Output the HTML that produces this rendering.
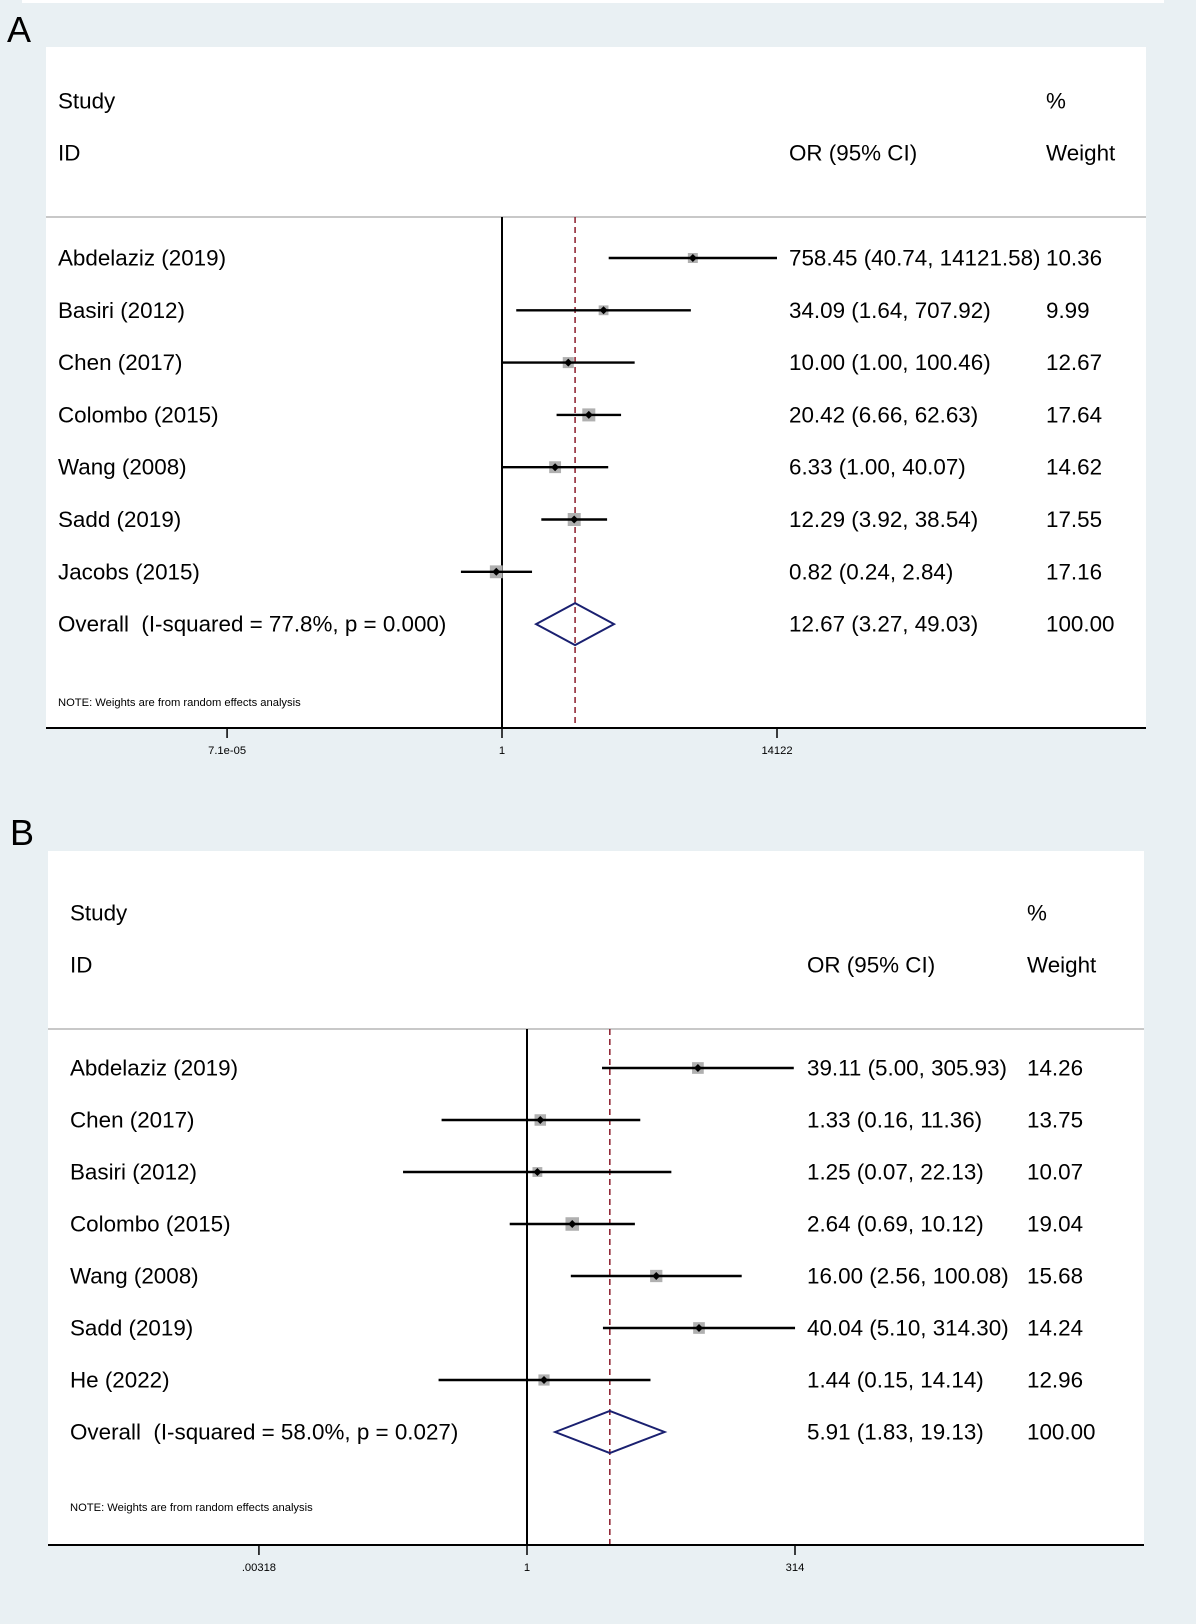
<!DOCTYPE html>
<html><head><meta charset="utf-8">
<style>
html,body{margin:0;padding:0;background:#e9f0f3;}
svg{display:block;font-family:"Liberation Sans",Arial,sans-serif;}
svg text{white-space:pre;}
</style></head>
<body>
<svg id="fig" width="1196" height="1624" viewBox="0 0 1196 1624" xmlns="http://www.w3.org/2000/svg">
<rect x="0" y="0" width="1196" height="1624" fill="#e9f0f3"/>
<rect x="22" y="0" width="1142" height="3" fill="#ffffff"/>
<text x="7" y="42" font-size="36" fill="#000">A</text>
<text x="10" y="845" font-size="36" fill="#000">B</text>
<g id="panelA"></g>
<g id="panelB"></g>
</svg>
<script>
// Panel A data
const studiesA = ["Abdelaziz (2019)","Basiri (2012)","Chen (2017)","Colombo (2015)","Wang (2008)","Sadd (2019)","Jacobs (2015)"];
const orA = [758.45, 34.09, 10.00, 20.42, 6.33, 12.29, 0.82];
const lowA = [40.74, 1.64, 1.00, 6.66, 1.00, 3.92, 0.24];
const highA = [14121.58, 707.92, 100.46, 62.63, 40.07, 38.54, 2.84];
const weightA = [10.36, 9.99, 12.67, 17.64, 14.62, 17.55, 17.16];
const overallA = [12.67, 3.27, 49.03];
const overallLabelA = "Overall  (I-squared = 77.8%, p = 0.000)";
const ticksA = [7.1e-05, 1, 14122];
const tickLabelsA = ["7.1e-05", "1", "14122"];
const ciTextA = ["758.45 (40.74, 14121.58)","34.09 (1.64, 707.92)","10.00 (1.00, 100.46)","20.42 (6.66, 62.63)","6.33 (1.00, 40.07)","12.29 (3.92, 38.54)","0.82 (0.24, 2.84)","12.67 (3.27, 49.03)"];
const wTextA = ["10.36","9.99","12.67","17.64","14.62","17.55","17.16","100.00"];

// Panel B data
const studiesB = ["Abdelaziz (2019)","Chen (2017)","Basiri (2012)","Colombo (2015)","Wang (2008)","Sadd (2019)","He (2022)"];
const orB = [39.11, 1.33, 1.25, 2.64, 16.00, 40.04, 1.44];
const lowB = [5.00, 0.16, 0.07, 0.69, 2.56, 5.10, 0.15];
const highB = [305.93, 11.36, 22.13, 10.12, 100.08, 314.30, 14.14];
const weightB = [14.26, 13.75, 10.07, 19.04, 15.68, 14.24, 12.96];
const overallB = [5.91, 1.83, 19.13];
const overallLabelB = "Overall  (I-squared = 58.0%, p = 0.027)";
const ticksB = [0.00318, 1, 314];
const tickLabelsB = [".00318", "1", "314"];
const ciTextB = ["39.11 (5.00, 305.93)","1.33 (0.16, 11.36)","1.25 (0.07, 22.13)","2.64 (0.69, 10.12)","16.00 (2.56, 100.08)","40.04 (5.10, 314.30)","1.44 (0.15, 14.14)","5.91 (1.83, 19.13)"];
const wTextB = ["14.26","13.75","10.07","19.04","15.68","14.24","12.96","100.00"];

const NS = "http://www.w3.org/2000/svg";
function mk(parent, tag, attrs, txt){
  const e = document.createElementNS(NS, tag);
  for (const k in attrs) e.setAttribute(k, attrs[k]);
  if (txt !== undefined) e.textContent = txt;
  parent.appendChild(e);
  return e;
}

function drawPanel(g, cfg, studies, or, low, high, weight, overall, overallLabel, ticks, tickLabels, ciText, wText){
  const xs = v => cfg.x1 + Math.log(v) * (cfg.xHi - cfg.x1) / Math.log(ticks[2]);
  const bg = mk(g, "rect", {x:cfg.left, y:cfg.top, width:cfg.right-cfg.left, height:cfg.axisY-cfg.top, fill:"#ffffff"});
  
  
  const fs = 22.4;
  const h1 = mk(g, "text", {x:cfg.textX, y:cfg.hy1, "font-size":fs, "dominant-baseline":"central"}, "Study");
  
  
  const h2 = mk(g, "text", {x:cfg.textX, y:cfg.hy2, "font-size":fs, "dominant-baseline":"central"}, "ID");
  
  
  const h3 = mk(g, "text", {x:cfg.ciX, y:cfg.hy2, "font-size":fs, "dominant-baseline":"central"}, "OR (95% CI)");
  
  
  const h4 = mk(g, "text", {x:cfg.wX, y:cfg.hy1, "font-size":fs, "dominant-baseline":"central"}, "%");
  
  
  const h5 = mk(g, "text", {x:cfg.wX, y:cfg.hy2, "font-size":fs, "dominant-baseline":"central"}, "Weight");
  
  
  const sep = mk(g, "line", {x1:cfg.left, x2:cfg.right, y1:cfg.sepY, y2:cfg.sepY, stroke:"#c8c8c8", "stroke-width":2});
  
  
  const nl = mk(g, "line", {x1:xs(1), x2:xs(1), y1:cfg.sepY, y2:cfg.axisY, stroke:"#000", "stroke-width":2});
  
  
  const dl = mk(g, "line", {x1:xs(overall[0]), x2:xs(overall[0]), y1:cfg.sepY, y2:cfg.axisY, stroke:"#8b1a2a", "stroke-width":1.5, "stroke-dasharray":"6,4"});
  
  
  for (let i = 0; i < studies.length; i++){
    const y = cfg.row0 + i * cfg.rowH;
    const t = mk(g, "text", {x:cfg.textX, y:y, "font-size":fs, "dominant-baseline":"central"}, studies[i]);
    
    
    const s = 3.1 * Math.sqrt(weight[i]);
    const sq = mk(g, "rect", {x:xs(or[i])-s/2, y:y-s/2, width:s, height:s, fill:"#b0b0b0"});
    
    
    const ci = mk(g, "line", {x1:xs(low[i]), x2:xs(high[i]), y1:y, y2:y, stroke:"#000", "stroke-width":2.4});
    
    
    const cx = xs(or[i]);
    const pt = mk(g, "polygon", {points:`${cx-4},${y} ${cx},${y-4} ${cx+4},${y} ${cx},${y+4}`, fill:"#000"});
    
    
    const c = mk(g, "text", {x:cfg.ciX, y:y, "font-size":fs, "dominant-baseline":"central"}, ciText[i]);
    
    
    const w = mk(g, "text", {x:cfg.wX, y:y, "font-size":fs, "dominant-baseline":"central"}, wText[i]);
    
    
  }
  const oy = cfg.row0 + studies.length * cfg.rowH;
  const ot = mk(g, "text", {x:cfg.textX, y:oy, "font-size":fs, "dominant-baseline":"central"}, overallLabel);
  
  
  const dm = mk(g, "polygon", {points:`${xs(overall[1])},${oy} ${xs(overall[0])},${oy-21} ${xs(overall[2])},${oy} ${xs(overall[0])},${oy+21}`, fill:"none", stroke:"#1a2070", "stroke-width":2});
  
  
  const oc = mk(g, "text", {x:cfg.ciX, y:oy, "font-size":fs, "dominant-baseline":"central"}, ciText[studies.length]);
  
  
  const ow = mk(g, "text", {x:cfg.wX, y:oy, "font-size":fs, "dominant-baseline":"central"}, wText[studies.length]);
  
  
  const note = mk(g, "text", {x:cfg.textX, y:cfg.noteY, "font-size":11.2, "dominant-baseline":"central"}, "NOTE: Weights are from random effects analysis");
  
  
  const ax = mk(g, "line", {x1:cfg.left, x2:cfg.right, y1:cfg.axisY, y2:cfg.axisY, stroke:"#000", "stroke-width":2});
  
  
  for (let i = 0; i < ticks.length; i++){
    const x = xs(ticks[i]);
    const tk = mk(g, "line", {x1:x, x2:x, y1:cfg.axisY, y2:cfg.axisY+10, stroke:"#000", "stroke-width":1.5});
    
    
    const tl = mk(g, "text", {x:x, y:cfg.axisY+23, "font-size":11.2, "text-anchor":"middle", "dominant-baseline":"central"}, tickLabels[i]);
    
    
  }
}

drawPanel(document.getElementById("panelA"),
  {left:46, right:1146, top:47, axisY:728, textX:58, ciX:789, wX:1046, hy1:101, hy2:153, sepY:217,
   row0:258, rowH:52.3, noteY:703, x1:502, xHi:777},
  studiesA, orA, lowA, highA, weightA, overallA, overallLabelA, ticksA, tickLabelsA, ciTextA, wTextA);

drawPanel(document.getElementById("panelB"),
  {left:48, right:1144, top:851, axisY:1545, textX:70, ciX:807, wX:1027, hy1:913, hy2:965, sepY:1029,
   row0:1068, rowH:52, noteY:1508, x1:527, xHi:795},
  studiesB, orB, lowB, highB, weightB, overallB, overallLabelB, ticksB, tickLabelsB, ciTextB, wTextB);
</script>
</body></html>
